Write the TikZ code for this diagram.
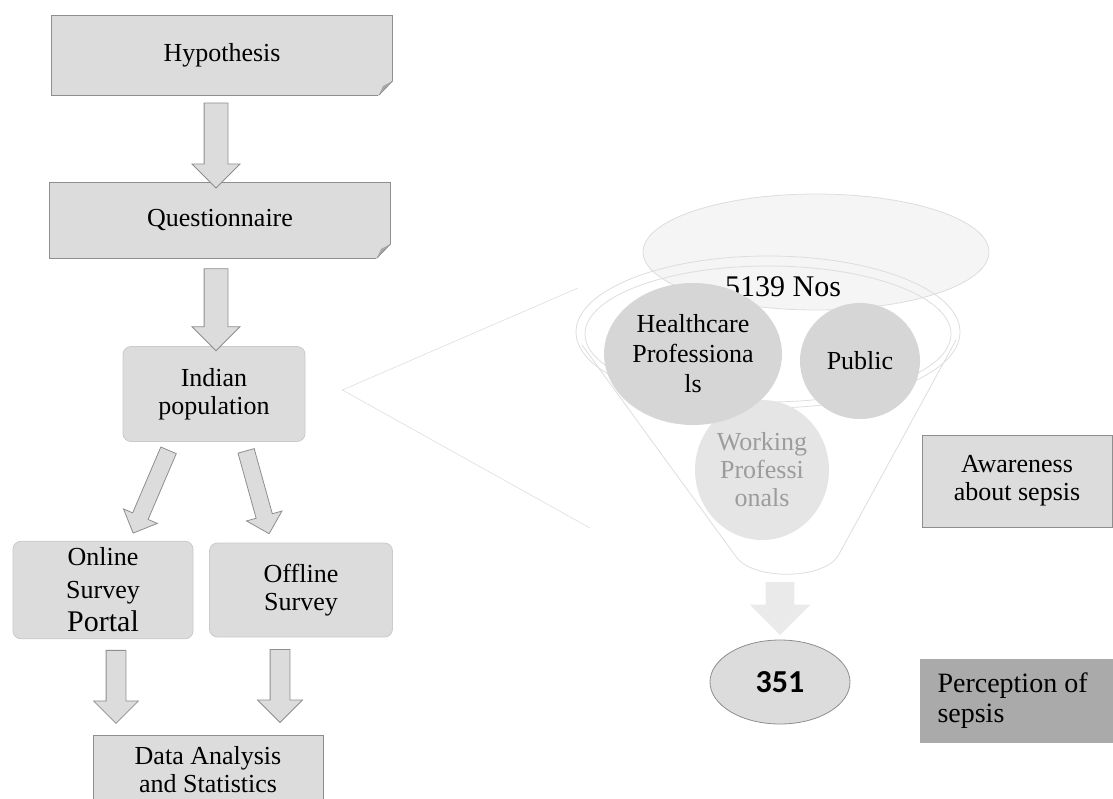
\documentclass[tikz,border=0pt]{standalone}
\usepackage{fontspec}
\setmainfont{Liberation Serif}
\newfontfamily\calibfont{Carlito}
\usetikzlibrary{shapes.geometric,shapes.arrows,calc}

\definecolor{boxgray}{HTML}{DCDCDC}
\definecolor{edgegray}{HTML}{8E8E8E}
\definecolor{foldgray}{HTML}{A8A8A8}
\definecolor{blobgray}{HTML}{D6D6D6}
\definecolor{palegray}{HTML}{E5E5E5}
\definecolor{textgray}{HTML}{9C9C9C}
\definecolor{funneltop}{HTML}{F5F5F5}
\definecolor{funnelgray}{HTML}{DDDDDD}
\definecolor{faintgray}{HTML}{EAEAEA}
\definecolor{darkbox}{HTML}{AAAAAA}

\begin{document}
\begin{tikzpicture}[x=0.5pt, y=-0.5pt, every node/.style={font=\fontsize{13}{14}\selectfont}]
\useasboundingbox (0,0) rectangle (1113,798);

\tikzset{flowbox/.style={rectangle, draw=edgegray, fill=boxgray, minimum width=170.5pt, minimum height=40pt}}
\tikzset{softbox/.style={rectangle, rounded corners=4pt, fill=boxgray, draw=boxgray!92!black, align=center, minimum width=91pt, minimum height=47.5pt}}
\tikzset{plainbox/.style={rectangle, draw=edgegray, fill=boxgray, align=center}}
\tikzset{blockarrow/.style={single arrow, sloped, allow upside down, draw=edgegray, fill=boxgray, inner xsep=0pt, inner ysep=5.75pt, single arrow head extend=6pt, single arrow tip angle=90}}
\tikzset{blob/.style={ellipse, inner sep=0pt, fill=blobgray, align=center, font=\fontsize{13}{15}\selectfont}}
\tikzset{funnelline/.style={draw=funnelgray, line width=0.4pt}}

% left column
\node[flowbox] (hyp) at (222,55) {Hypothesis};
\node[flowbox, minimum height=38pt] (quest) at (220,220) {Questionnaire};
\node[softbox] (pop) at (214,394) {Indian\\population};
\node[softbox, minimum width=90pt, font=\fontsize{13}{16.5}\selectfont] (online) at (103,590) {Online\\Survey\\{\fontsize{15}{16.5}\selectfont Portal}};
\node[softbox, minimum width=91.5pt, minimum height=47pt] (offline) at (301,590) {Offline\\Survey};
\node[plainbox, minimum width=115pt, minimum height=35pt] (data) at (208,770) {Data Analysis\\and Statistics};

% folded corners
\foreach \fb/\hh in {hyp/40, quest/38} {
  \fill[white] ($(\fb.center)+(171.5,\hh-15)$) -- ($(\fb.center)+(171.5,\hh+1)$) -- ($(\fb.center)+(156,\hh+1)$) -- cycle;
  \fill[foldgray] ($(\fb.center)+(170.5,\hh-14)$) -- ($(\fb.center)+(157,\hh)$) -- ($(\fb.center)+(161,\hh-9)$) -- cycle;
  \draw[edgegray] ($(\fb.center)+(170.5,\hh-14)$) -- ($(\fb.center)+(157,\hh)$);
}

\path ($(hyp.south)+(-6,2)$) -- node[blockarrow, minimum height=42.5pt] {} ($(quest.north)+(-4,0)$);
\path ($(quest.south)+(-4,5)$) -- node[blockarrow, minimum height=41pt] {} ($(pop.north)+(2,-2)$);
\path ($(pop.south)+(-44,5)$) -- node[blockarrow, inner ysep=4pt, single arrow head extend=5pt, minimum height=45pt] {} ($(online.north)+(32,-12)$);
\path ($(pop.south)+(31,5)$) -- node[blockarrow, inner ysep=4pt, single arrow head extend=5pt, minimum height=43pt] {} ($(offline.north)+(-33,-13)$);
\path ($(online.south)+(13,7)$) -- node[blockarrow, inner ysep=4.75pt, single arrow head extend=6.25pt, minimum height=36.5pt] {} ($(data.north)+(-92,-17)$);
\path ($(offline.south)+(-21,7)$) -- node[blockarrow, inner ysep=4.75pt, single arrow head extend=6.25pt, minimum height=36.5pt] {} ($(data.north)+(72,-17)$);

% funnel
\coordinate (zoomtip) at ($(pop.east)+(37,-4)$);
\coordinate (zoomtop) at (578,288);
\coordinate (zoombot) at (590,528);
\draw[draw=funnelgray, line width=0.3pt] (zoomtop) -- (zoomtip) -- (zoombot);

\draw[funnelline, fill=funneltop] (816,252) ellipse [x radius=173, y radius=58];
\draw[funnelline] (768,332) ellipse [x radius=192, y radius=76];
\draw[funnelline] (768,334) ellipse [x radius=183, y radius=68];
\draw[funnelline] (582,345) -- (737,558) .. controls (755,580) and (822,580) .. (838,556) -- (956,340);

\node[font=\fontsize{15}{16}\selectfont] (nos) at (783,287) {5139 Nos};
\node[blob, fill=palegray, text=textgray, minimum width=67pt, minimum height=70pt, font=\fontsize{13}{14}\selectfont] (working) at (762,470) {Working\\Professi\\onals};
\node[blob, minimum width=89pt, minimum height=71pt] (health) at (693,354) {Healthcare\\Professiona\\ls};
\node[blob, minimum width=60pt, minimum height=58pt] (public) at (860,361) {Public};

\node[ellipse, draw=edgegray, fill=boxgray, minimum width=70pt, minimum height=42pt, font=\calibfont\bfseries\fontsize{16}{18}\selectfont] (n351) at (780,682) {351};
\coordinate (fbottom) at (780,575);
\path (fbottom) -- node[blockarrow, draw=none, fill=faintgray, inner ysep=7pt, single arrow head extend=8pt, minimum height=26.5pt] {} ($(n351.north)+(0,-12)$);

% right labels
\node[plainbox, minimum width=95pt, minimum height=46pt] (aware) at (1017,481) {Awareness\\about sepsis};
\node[rectangle, fill=darkbox, align=flush left, text width=78.5pt, inner xsep=9pt, minimum height=42pt, font=\fontsize{14}{15}\selectfont] (percep) at (1016,701) {Perception of\\sepsis};
\end{tikzpicture}
\end{document}
